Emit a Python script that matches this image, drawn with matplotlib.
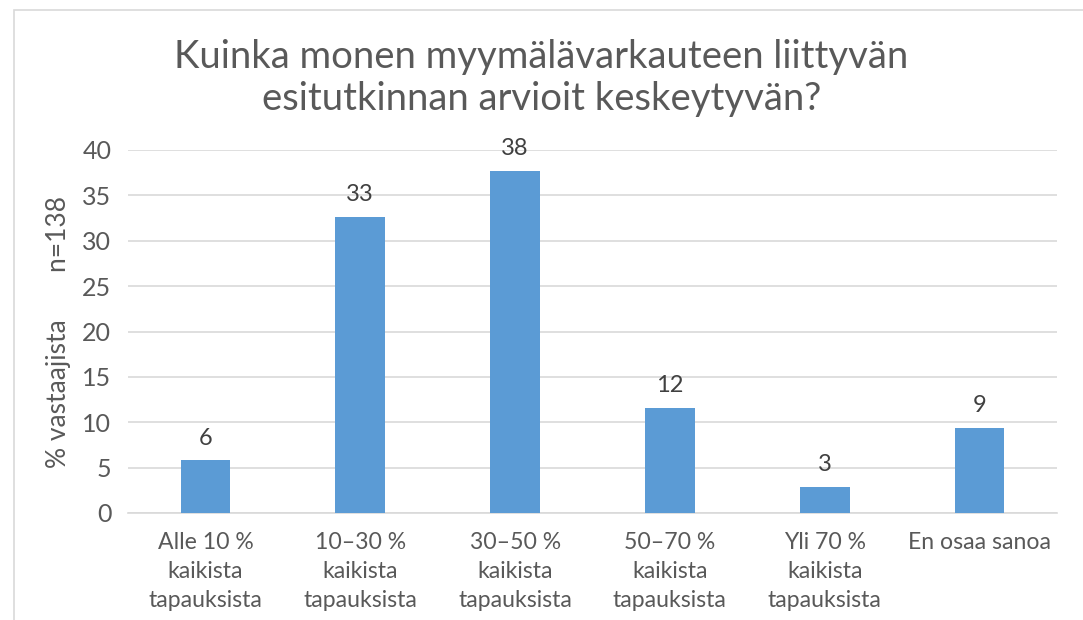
import matplotlib
matplotlib.use("Agg")
import matplotlib.pyplot as plt
from matplotlib.patches import Rectangle

categories = ["Alle 10 %\nkaikista\ntapauksista", "10–30 %\nkaikista\ntapauksista",
              "30–50 %\nkaikista\ntapauksista", "50–70 %\nkaikista\ntapauksista",
              "Yli 70 %\nkaikista\ntapauksista", "En osaa sanoa"]
values = [5.8, 32.6, 37.7, 11.6, 2.9, 9.4]
labels = ["6", "33", "38", "12", "3", "9"]
yticks = [0, 5, 10, 15, 20, 25, 30, 35, 40]

plt.rcParams['font.family'] = ['Lato', 'DejaVu Sans']
txt = "#595959"

fig = plt.figure(figsize=(10.83, 6.2), dpi=100)
fig.patches.append(Rectangle((14/1083, -0.01), 1.0, 1 - 10/620 + 0.01, transform=fig.transFigure,
                             fill=False, edgecolor="#d9d9d9", linewidth=1.2))
ax = fig.add_axes([128/1083, 1 - 513/620, (1057 - 128)/1083, (513 - 150)/620])
x = list(range(len(categories)))
ax.bar(x, values, width=0.32, color="#5b9bd5", zorder=3)
for xi, v, l in zip(x, values, labels):
    ax.text(xi, v + 1.3, l, ha="center", va="bottom", fontsize=17, color="#404040")
ax.set_xlim(-0.5, 5.5)
ax.set_ylim(0, 40)
ax.set_yticks(yticks)
ax.set_xticks(x)
ax.set_xticklabels(categories, fontsize=16.6, color=txt, va="top")
for t in ax.get_xticklabels():
    t.set_linespacing(1.45)
ax.tick_params(axis="y", labelsize=18, labelcolor=txt, length=0, pad=12)
ax.tick_params(axis="x", length=0, pad=14)
ax.grid(axis="y", color="#d9d9d9", linewidth=1.2, zorder=0)
for s in ["top", "right", "left"]:
    ax.spines[s].set_visible(False)
ax.spines["bottom"].set_color("#d9d9d9")
ax.spines["bottom"].set_linewidth(1.2)
ax.set_ylabel("% vastaajista       n=138", fontsize=19, color=txt, labelpad=8)
fig.text(0.5, 1 - 78/620, "Kuinka monen myymälävarkauteen liittyvän\nesitutkinnan arvioit keskeytyvän?",
         ha="center", va="center", fontsize=27.5, color=txt, linespacing=1.2)
fig.savefig("out.png", dpi=100)
